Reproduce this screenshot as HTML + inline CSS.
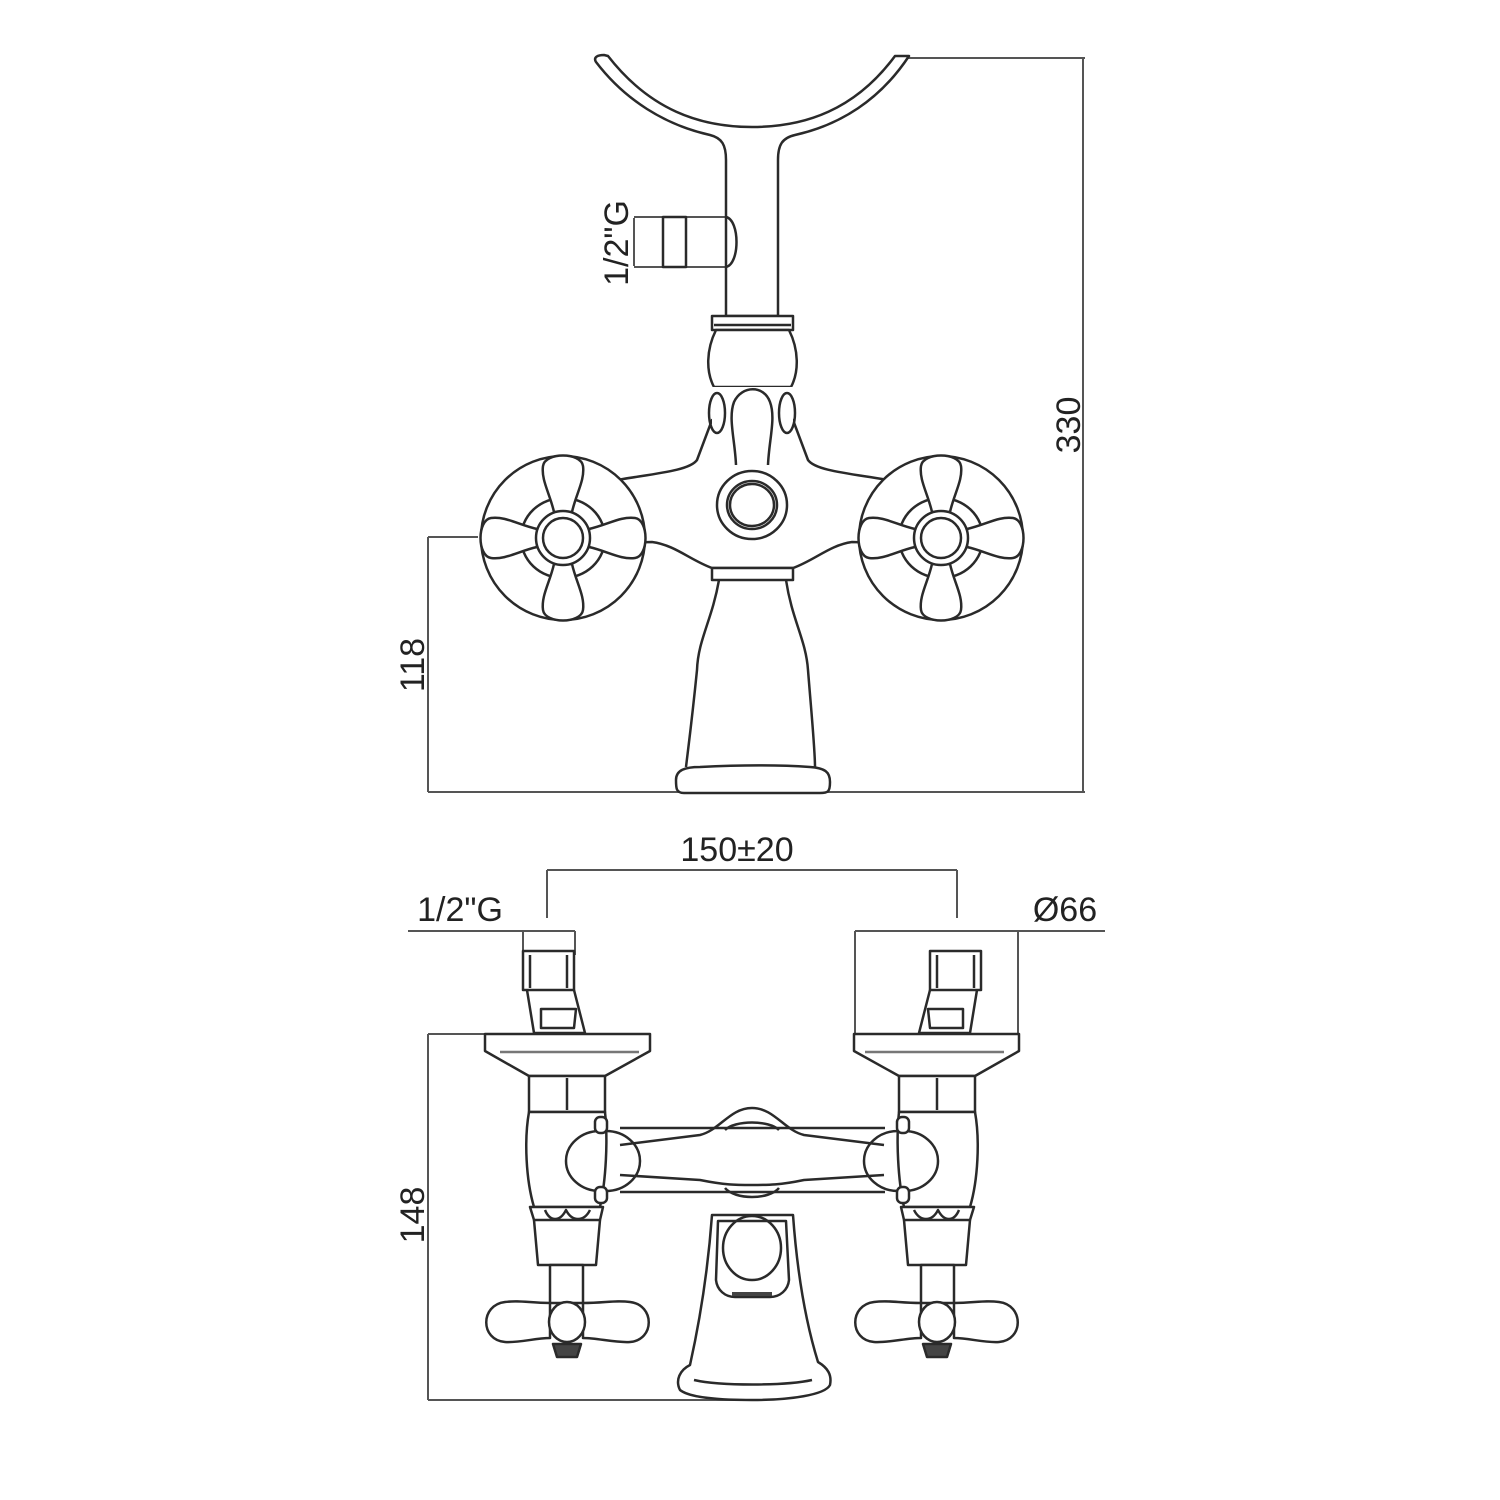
<!DOCTYPE html>
<html><head><meta charset="utf-8"><style>
html,body{margin:0;padding:0;background:#fff}
svg{display:block}
text{font-family:"Liberation Sans",sans-serif;fill:#222}
</style></head><body>
<svg width="1500" height="1500" viewBox="0 0 1500 1500" xmlns="http://www.w3.org/2000/svg">
<defs>
<g id="arm"><path d="M-9,-26 C-13,-44 -22,-58 -20,-72 C-18,-86 18,-86 20,-72 C22,-58 13,-44 9,-26 Z" fill="#fff"/></g>
<g id="cross">
<circle r="82" fill="#fff"/>
<ellipse rx="42" ry="40" fill="none"/>
<use href="#arm"/><use href="#arm" transform="rotate(90)"/><use href="#arm" transform="rotate(180)"/><use href="#arm" transform="rotate(270)"/>
<circle r="27" fill="#fff"/><circle r="20" fill="#fff"/>
</g>
<g id="bside">
<!-- inlet -->
<path d="M523,951 H574 V990 H523 Z" fill="#fff"/>
<line x1="530" y1="955" x2="530" y2="988"/><line x1="567" y1="955" x2="567" y2="988"/>
<path d="M527,990 L534,1033 H585 L574,990"/>
<path d="M541,1009 H576 L574,1028 H541 Z"/>
<!-- escutcheon -->
<path d="M485,1034 H650 V1051 L605,1076 H529 L485,1051 Z" fill="#fff"/>
<line x1="500" y1="1052" x2="639" y2="1052" stroke="#777"/>
<!-- nut -->
<rect x="529" y="1076" width="76" height="36" fill="#fff"/>
<line x1="567" y1="1078" x2="567" y2="1110"/>
<!-- valve body -->
<path d="M529,1112 C524,1140 526,1180 534,1207 H600 C606,1180 608,1140 605,1112 Z" fill="#fff"/>
<path d="M600,1131 A34,30 0 1,0 600,1191"/>
<path d="M606,1131 A34,30 0 0,1 606,1191"/>
<rect x="595" y="1117" width="12" height="16" rx="5" fill="#fff"/>
<rect x="595" y="1187" width="12" height="16" rx="5" fill="#fff"/>
<!-- decorated collar -->
<path d="M530,1207 H603 L600,1220 H534 Z" fill="#fff"/>
<path d="M545,1210 C550,1222 560,1222 566,1210 C572,1222 584,1222 590,1210"/>
<path d="M534,1220 L538,1265 H596 L600,1220"/>
<rect x="550" y="1265" width="33" height="38" fill="#fff"/>
<!-- handle -->
<path d="M550,1303 C530,1303 520,1300 505,1302 C480,1305 480,1340 505,1342 C520,1343 535,1338 550,1338 Z M583,1303 C605,1303 615,1300 630,1302 C655,1305 655,1340 630,1342 C615,1343 598,1338 583,1338 Z" fill="#fff"/>
<ellipse cx="567" cy="1322" rx="18" ry="20" fill="#fff"/>
<path d="M553,1344 H581 L577,1357 H557 Z" fill="#444"/>
</g>
</defs>
<g stroke="#2a2a2a" stroke-width="2.5" fill="none" stroke-linejoin="round">
<!-- ============ TOP VIEW ============ -->
<!-- dimensions -->
<g stroke="#555" stroke-width="2">
<line x1="905" y1="58" x2="1085" y2="58"/>
<line x1="1083" y1="58" x2="1083" y2="792"/>
<line x1="428" y1="792" x2="1085" y2="792"/>
<line x1="428" y1="537" x2="478" y2="537"/>
<line x1="428" y1="537" x2="428" y2="792"/>
<line x1="634" y1="217" x2="726" y2="217"/>
<line x1="634" y1="267" x2="726" y2="267"/>
<line x1="634" y1="218" x2="634" y2="266"/>
</g>
<!-- cradle -->
<path d="M608,56 C650,110 700,127 752,127 C805,127 855,110 895,56 H909 C880,100 840,125 795,135 C782,138 778,145 778,160 V316 H726 V160 C726,145 722,138 710,135 C665,125 625,100 596,62 C593,57 598,55 604,55 Z" fill="#fff"/>
<rect x="663" y="217" width="23" height="50" fill="#fff"/>
<path d="M726,217 C740,220 740,264 726,267" />
<!-- body arms -->
<path d="M560,490 L623,479 C660,473 690,470 697,460 L712,420 H793 L808,460 C815,470 845,473 882,479 L945,490 L945,545 L852,542 C830,545 815,560 793,568 H712 C690,560 675,545 652,542 L560,545 Z" fill="#fff"/>
<!-- collar -->
<path d="M712,316 H793 V330 H712 Z" fill="#fff"/>
<line x1="714" y1="325" x2="791" y2="325"/>
<path d="M716,330 C706,350 706,372 714,387 H791 C799,372 799,350 789,330 Z" fill="#fff"/>
<path d="M712,387 H793 V440 H712 Z" fill="#fff" stroke="none"/>
<ellipse cx="717" cy="413" rx="8" ry="20"/>
<ellipse cx="787" cy="413" rx="8" ry="20"/>
<path d="M736,465 C735,440 728,418 734,402 C742,385 764,385 770,402 C776,418 769,440 768,465" fill="#fff"/>
<!-- center circle -->
<ellipse cx="752" cy="505" rx="35" ry="34" fill="#fff"/>
<ellipse cx="752" cy="505" rx="25" ry="24"/>
<ellipse cx="752" cy="505" rx="22" ry="21"/>
<!-- bottom band -->
<rect x="712" y="568" width="81" height="12" fill="#fff"/>
<!-- stem -->
<path d="M719,580 C712,620 698,640 697,670 C692,720 688,750 686,767 M786,580 C792,620 806,640 808,670 C812,720 815,750 815,767"/>
<path d="M676,780 C676,770 685,767 700,767 C740,765 780,765 810,767 C825,768 830,772 830,782 C830,792 828,793 820,793 H684 C676,793 676,788 676,780 Z" fill="#fff"/>
<!-- handles -->
<use href="#cross" x="563" y="538"/>
<use href="#cross" x="941" y="538"/>
<!-- ============ BOTTOM VIEW ============ -->
<g stroke="#555" stroke-width="2">
<line x1="547" y1="870" x2="957" y2="870"/>
<line x1="547" y1="870" x2="547" y2="918"/>
<line x1="957" y1="870" x2="957" y2="918"/>
<line x1="408" y1="931" x2="575" y2="931"/>
<line x1="523" y1="931" x2="523" y2="951"/>
<line x1="575" y1="931" x2="575" y2="955"/>
<line x1="855" y1="931" x2="1105" y2="931"/>
<line x1="855" y1="931" x2="855" y2="1034"/>
<line x1="1018" y1="931" x2="1018" y2="1034"/>
<line x1="428" y1="1034" x2="485" y2="1034"/>
<line x1="428" y1="1034" x2="428" y2="1400"/>
<line x1="428" y1="1400" x2="760" y2="1400"/>
</g>
<!-- crossbar -->
<path d="M605,1128 H895 V1192 H605 Z" fill="#fff" stroke="none"/>
<line x1="620" y1="1128" x2="885" y2="1128"/>
<line x1="620" y1="1192" x2="885" y2="1192"/>
<path d="M620,1145 L700,1135 C720,1130 730,1108 752,1108 C774,1108 784,1130 804,1135 L884,1145"/>
<path d="M620,1175 L700,1180 C725,1185 735,1185 752,1185 C769,1185 780,1185 804,1180 L884,1175"/>
<path d="M725,1130 C735,1120 769,1120 779,1130"/>
<path d="M725,1188 C735,1200 769,1200 779,1188"/>
<!-- spout -->
<path d="M712,1215 C708,1270 700,1320 690,1365 C680,1370 675,1380 680,1390 C690,1398 720,1400 752,1400 C790,1400 825,1395 830,1385 C832,1375 828,1368 818,1362 C805,1320 797,1270 793,1215 Z" fill="#fff"/>
<path d="M694,1380 C720,1386 785,1386 812,1380"/>
<path d="M718,1221 H786 L789,1280 C788,1290 780,1297 770,1297 H735 C725,1297 717,1290 716,1280 Z"/>
<ellipse cx="752" cy="1248" rx="29" ry="32"/>
<path d="M732,1294 H772" stroke="#444" stroke-width="4"/>
<use href="#bside"/>
<use href="#bside" transform="translate(1504,0) scale(-1,1)"/>
</g>
<!-- texts -->
<text x="1080" y="425" font-size="34" text-anchor="middle" transform="rotate(-90 1080 425)">330</text>
<text x="424" y="665" font-size="34" text-anchor="middle" transform="rotate(-90 424 665)">118</text>
<text x="628" y="243" font-size="34" text-anchor="middle" transform="rotate(-90 628 243)">1/2"G</text>
<text x="737" y="861" font-size="34" text-anchor="middle">150±20</text>
<text x="460" y="921" font-size="34" text-anchor="middle">1/2"G</text>
<text x="1065" y="921" font-size="34" text-anchor="middle">Ø66</text>
<text x="424" y="1215" font-size="34" text-anchor="middle" transform="rotate(-90 424 1215)">148</text>
</svg>
</body></html>
